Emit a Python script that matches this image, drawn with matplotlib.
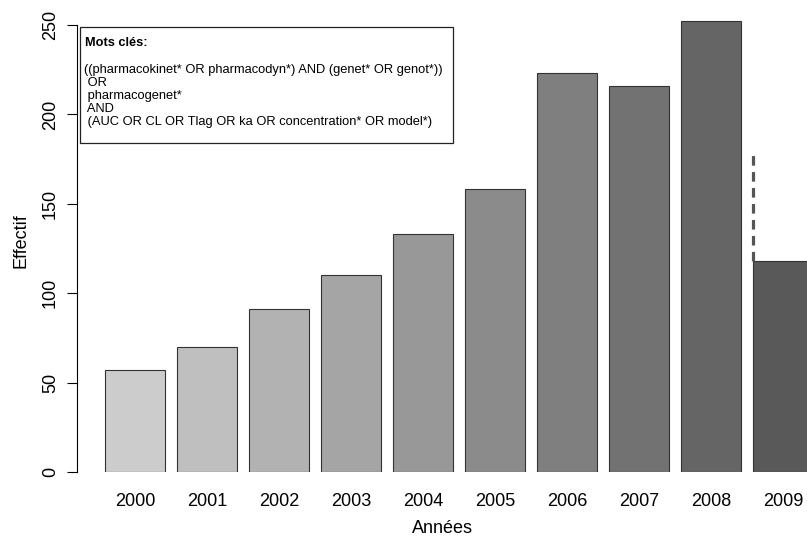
import matplotlib
matplotlib.use('Agg')
import matplotlib.pyplot as plt

plt.rcParams['font.family'] = ['Liberation Sans', 'DejaVu Sans']

annees = ['2000', '2001', '2002', '2003', '2004', '2005', '2006', '2007', '2008', '2009']
effectifs = [57, 70, 91, 110, 133, 158, 223, 216, 252, 118]
gris = ['#cccccc', '#bfbfbf', '#b2b2b2', '#a5a5a5', '#989898',
        '#8b8b8b', '#7f7f7f', '#727272', '#656565', '#595959']
projection_2009 = 180

fig = plt.figure(figsize=(8.07, 5.38), dpi=100)
ax = fig.add_axes([77 / 807, 1 - 472 / 538, 730 / 807, 462 / 538])

x = list(range(len(annees)))
ax.bar(x, effectifs, width=60 / 72, color=gris, edgecolor='#333333', linewidth=0.8)

# projection pour l'annee incomplete
ax.plot([x[-1] - 30 / 72, x[-1] - 30 / 72], [effectifs[-1], projection_2009],
        color='#555555', linestyle=(0, (3, 2)), linewidth=2.3)

ax.set_xlim(-58 / 72, 672 / 72)
ax.set_ylim(0, 462 / (447 / 250))

for s in ['top', 'right', 'bottom']:
    ax.spines[s].set_visible(False)
ax.spines['left'].set_bounds(0, 250)
ax.spines['left'].set_linewidth(0.8)

ax.set_yticks([0, 50, 100, 150, 200, 250])
ax.tick_params(axis='y', length=7, width=0.8, labelsize=13, pad=6)
for lab in ax.get_yticklabels():
    lab.set_rotation(90)
    lab.set_va('center')
ax.set_xticks(x)
ax.set_xticklabels(annees)
ax.tick_params(axis='x', length=0, labelsize=13, pad=15)

ax.set_xlabel('Années', fontsize=13, labelpad=7)
ax.set_ylabel('Effectif', fontsize=13, labelpad=9)

texte = ("((pharmacokinet* OR pharmacodyn*) AND (genet* OR genot*))\n"
         " OR\n pharmacogenet*\n AND\n"
         " (AUC OR CL OR Tlag OR ka OR concentration* OR model*)")
boite = plt.Rectangle((80 / 807, 1 - 143 / 538), 373 / 807, 116 / 538,
                      transform=fig.transFigure, facecolor='white',
                      edgecolor='#222222', linewidth=0.9)
fig.patches.append(boite)
fig.text(85 / 807, 1 - 43 / 538, 'Mots clés:', fontsize=9.2,
         fontweight='bold', va='center')
fig.text(84 / 807, 1 - 64 / 538, texte, fontsize=9.3, va='top',
         linespacing=1.1)

fig.savefig('out.png', dpi=100)
